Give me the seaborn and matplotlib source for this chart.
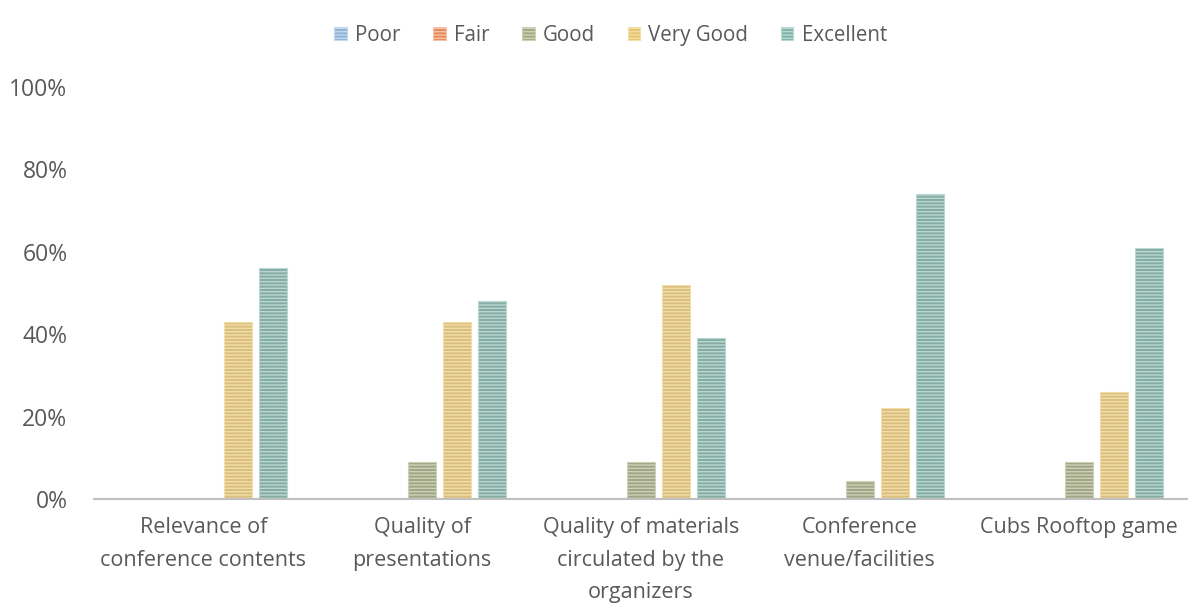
import matplotlib
matplotlib.use("Agg")
import matplotlib.pyplot as plt
import seaborn as sns
import pandas as pd
from matplotlib.ticker import PercentFormatter
from matplotlib.patches import Patch

categories = ["Relevance of\nconference contents", "Quality of\npresentations",
              "Quality of materials\ncirculated by the\norganizers", "Conference\nvenue/facilities",
              "Cubs Rooftop game"]
ratings = ["Poor", "Fair", "Good", "Very Good", "Excellent"]
poor = [0, 0, 0, 0, 0]
fair = [0, 0, 0, 0, 0]
good = [0, 9, 9, 4.5, 9]
very_good = [43, 43, 52, 22, 26]
excellent = [56, 48, 39, 74, 61]

colors = ["#8FB4D9", "#E8895A", "#A3AA82", "#E8C46E", "#7FB2A8"]
edges = ["#C4D9EE", "#F4C2A8", "#CDD2B6", "#F3DEAA", "#BBD7D1"]

rows = []
for r, vals in zip(ratings, [poor, fair, good, very_good, excellent]):
    for c, v in zip(categories, vals):
        rows.append({"category": c, "rating": r, "value": v})
df = pd.DataFrame(rows)

sns.set_theme(style="white")
plt.rcParams['font.family'] = ['Open Sans', 'DejaVu Sans']
plt.rcParams['hatch.linewidth'] = 1.0

fig = plt.figure(figsize=(11.88, 6.08), dpi=100)
ax = fig.add_axes([0.079, 0.179, 0.921, 0.678])

sns.barplot(data=df, x="category", y="value", hue="rating", hue_order=ratings,
            palette=colors, ax=ax, width=0.8, gap=0.2, legend=False)

for container, ec in zip(ax.containers, edges):
    for bar in container:
        bar.set_edgecolor(ec)
        bar.set_hatch("-----")
        bar.set_linewidth(0.8)

ax.set_ylim(0, 100)
ax.set_yticks([0, 20, 40, 60, 80, 100])
ax.yaxis.set_major_formatter(PercentFormatter(decimals=0))
ax.set_xlim(-0.5, 4.5)
ax.set_xlabel("")
ax.set_ylabel("")
for s in ["top", "right", "left"]:
    ax.spines[s].set_visible(False)
ax.spines["bottom"].set_color("#BFBFBF")
ax.spines["bottom"].set_linewidth(1.5)
ax.tick_params(axis="y", length=0, pad=19, labelsize=16.5, labelcolor="#595959")
ax.tick_params(axis="x", length=0, pad=13, labelsize=15.5, labelcolor="#595959")
for t in ax.get_xticklabels():
    t.set_linespacing(1.72)

handles = [Patch(facecolor=c, edgecolor=e, hatch="-----", linewidth=0.8) for c, e in zip(colors, edges)]
fig.legend(handles, ratings, loc="upper center", bbox_to_anchor=(0.514, 0.99), ncol=5,
           frameon=False, fontsize=14.8, labelcolor="#595959", handlelength=0.6,
           handleheight=0.6, handletextpad=0.4, columnspacing=1.6)

fig.savefig("out.png", dpi=100)
